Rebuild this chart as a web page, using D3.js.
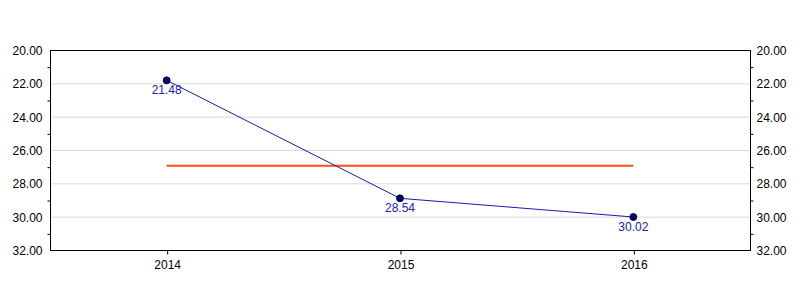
<!DOCTYPE html>
<html>
<head>
<meta charset="utf-8">
<script src="https://cdn.jsdelivr.net/npm/d3@7"></script>
<style>
  body { margin: 0; background: #fff; }
  svg text { font-family: "Liberation Sans", Arial, sans-serif; font-size: 12px; }
</style>
</head>
<body>
<svg id="chart" width="800" height="300"></svg>
<script>
// ─── Data ────────────────────────────────────────────────
const years = ['2014', '2015', '2016'];
const values = [21.82, 28.9, 30.02];          // plotted positions
const valueLabels = ['21.48', '28.54', '30.02']; // labels printed next to points
const refLine = [26.94, 26.94, 26.94];
const yTicks = [20, 22, 24, 26, 28, 30, 32];
const yMinorTicks = [21, 23, 25, 27, 29, 31];

const svg = d3.select('#chart');
const margin = { top: 50, right: 50, bottom: 50, left: 50 };
const iw = 800 - margin.left - margin.right;
const ih = 300 - margin.top - margin.bottom;
const g = svg.append('g').attr('transform', `translate(${margin.left},${margin.top})`);

const x = d3.scalePoint().domain(years).range([0, iw]).padding(0.5);
const y = d3.scaleLinear().domain([20, 32]).range([0, ih]);

// gridlines
g.selectAll('line.grid').data(yTicks.slice(1, -1)).join('line')
  .attr('x1', 0).attr('x2', iw)
  .attr('y1', d => y(d) + 0.5).attr('y2', d => y(d) + 0.5)
  .attr('stroke', '#d9d9d9');

// frame
g.append('rect').attr('x', 0.5).attr('y', 0.5).attr('width', iw).attr('height', ih)
  .attr('fill', 'none').attr('stroke', '#000');

// y axes
const fmt = d3.format('.2f');
function styleAxis(sel) {
  sel.select('.domain').remove();
  sel.selectAll('text').attr('fill', '#000').style('font-size', '12px');
  sel.selectAll('line').attr('stroke', '#000');
}
g.append('g').attr('transform', 'translate(0.5,0.5)')
  .call(d3.axisLeft(y).tickValues(yTicks).tickFormat(fmt).tickSize(0).tickPadding(8))
  .call(styleAxis);
g.append('g').attr('transform', 'translate(0.5,0.5)')
  .call(d3.axisLeft(y).tickValues(yMinorTicks).tickFormat('').tickSize(3))
  .call(styleAxis);
g.append('g').attr('transform', `translate(${iw + 0.5},0.5)`)
  .call(d3.axisRight(y).tickValues(yTicks).tickFormat(fmt).tickSize(0).tickPadding(6))
  .call(styleAxis);
g.append('g').attr('transform', `translate(${iw + 0.5},0.5)`)
  .call(d3.axisRight(y).tickValues(yMinorTicks).tickFormat('').tickSize(3))
  .call(styleAxis);

// x axis
g.append('g').attr('transform', `translate(0.5,${ih + 0.5})`)
  .call(d3.axisBottom(x).tickSize(4).tickPadding(6))
  .call(styleAxis);

// reference line
const line = d3.line().x((_, i) => x(years[i])).y(d => y(d));
g.append('path').datum(refLine)
  .attr('d', line).attr('fill', 'none')
  .attr('stroke', '#ff5014').attr('stroke-width', 2);

// series
g.append('path').datum(values)
  .attr('d', line).attr('fill', 'none')
  .attr('stroke', '#1a1ab0').attr('stroke-width', 1);
g.selectAll('circle.pt').data(values).join('circle')
  .attr('class', 'pt')
  .attr('cx', (_, i) => x(years[i])).attr('cy', d => y(d))
  .attr('r', 3.5).attr('fill', '#000080').attr('stroke', '#000').attr('stroke-width', 0.8);
g.selectAll('text.val').data(values).join('text')
  .attr('class', 'val')
  .attr('x', (_, i) => x(years[i])).attr('y', d => y(d) + 14)
  .attr('text-anchor', 'middle').attr('fill', '#2222aa')
  .text((_, i) => valueLabels[i]);
</script>
</body>
</html>
